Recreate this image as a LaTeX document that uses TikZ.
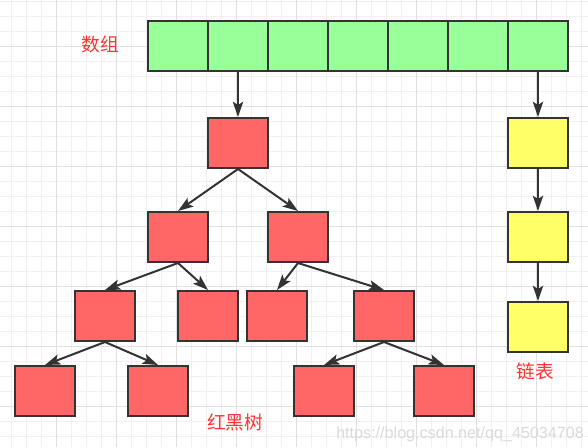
\documentclass[tikz,border=0pt]{standalone}
\usepackage{fontspec}
\newfontfamily\cjk{Noto Sans CJK SC}
\newfontfamily\wmfont{Liberation Sans}
\usetikzlibrary{arrows.meta}
\definecolor{gminor}{HTML}{F0F0F0}
\definecolor{gmajor}{HTML}{E0E0E0}
\definecolor{strokec}{HTML}{333333}
\definecolor{greenf}{HTML}{99FF99}
\definecolor{redf}{HTML}{FF6666}
\definecolor{yellowf}{HTML}{FFFF66}
\definecolor{labelred}{HTML}{FF3333}
\definecolor{wmgray}{HTML}{DADADA}
\tikzset{
  box/.style={draw=strokec, line width=1.5pt, minimum width=45pt, minimum height=37.5pt, inner sep=0pt},
  cell/.style={box, fill=greenf},
  rb/.style={box, fill=redf},
  yb/.style={box, fill=yellowf},
  arr/.style={draw=strokec, line width=1.5pt, -{Stealth[length=11.5pt,width=7.8pt,inset=2.5pt]}},
  lbl/.style={font=\cjk\fontsize{14pt}{16pt}\selectfont, text=labelred, inner sep=0pt},
}
\begin{document}
\begin{tikzpicture}[x=0.75pt,y=-0.75pt]
\useasboundingbox (0,0) rectangle (588,447);
\fill[white] (0,0) rectangle (588,447);
% grid
\foreach \i in {0,...,38} \draw[gminor, line width=0.75pt] (11.7+15*\i,0) -- (11.7+15*\i,447);
\foreach \i in {0,...,29} \draw[gminor, line width=0.75pt] (0,1.7+15*\i) -- (588,1.7+15*\i);
\foreach \i in {0,...,8} \draw[gmajor, line width=0.75pt] (56.7+60*\i,0) -- (56.7+60*\i,447);
\foreach \i in {0,...,6} \draw[gmajor, line width=0.75pt] (0,46.7+60*\i) -- (588,46.7+60*\i);
% array
\foreach \k in {1,...,7} \node[cell] (a\k) at (118+60*\k,46) {};
% tree
\node[rb] (r) at (238,143) {};
\node[rb] (l) at (178,237) {};
\node[rb] (rr) at (298,237) {};
\node[rb] (ll) at (105,316) {};
\node[rb] (lr) at (208,316) {};
\node[rb] (rl) at (277,316) {};
\node[rb] (rrr) at (384,316) {};
\node[rb] (lll) at (45,391) {};
\node[rb] (llr) at (158,391) {};
\node[rb] (rrl) at (324,391) {};
\node[rb] (rrrr) at (444,391) {};
% list
\node[yb] (y1) at (538,143) {};
\node[yb] (y2) at (538,237) {};
\node[yb] (y3) at (538,327) {};
% arrows
\draw[arr] (a2.south) -- (r.north);
\draw[arr] (a7.south) -- (y1.north);
\draw[arr] (y1.south) -- (y2.north);
\draw[arr] (y2.south) -- (y3.north);
\draw[arr] (r.south) -- (l.north);
\draw[arr] (r.south) -- (rr.north);
\draw[arr] (l.south) -- (ll.north);
\draw[arr] (l.south) -- (lr.north);
\draw[arr] (rr.south) -- (rl.north);
\draw[arr] (rr.south) -- (rrr.north);
\draw[arr] (ll.south) -- (lll.north);
\draw[arr] (ll.south) -- (llr.north);
\draw[arr] (rrr.south) -- (rrl.north);
\draw[arr] (rrr.south) -- (rrrr.north);
% labels
\node[lbl] (t1) at (100,44) {数组};
\node[lbl] (t2) at (235,422) {红黑树};
\node[lbl] (t3) at (535,371.5) {链表};
\node[anchor=base west, inner sep=0pt, text=wmgray, font=\wmfont\fontsize{12.1pt}{14pt}\selectfont] (wm) at (336,438) {https://blog.csdn.net/qq\_45034708};
\end{tikzpicture}
\end{document}
